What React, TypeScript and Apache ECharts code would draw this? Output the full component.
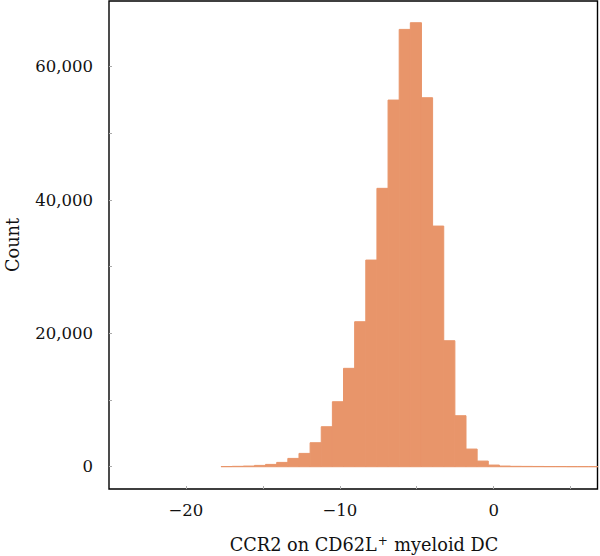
import React, { useEffect, useRef } from "react";
import * as echarts from "echarts";

// Histogram of CCR2 expression, equal-width bins
const binStart = -23.51;
const binWidth = 0.7238;
const counts = [
  0, 0, 0, 0, 0, 0, 0, 0,
  30, 60, 100, 200, 350, 650, 1250, 2000, 3600, 6000,
  9750, 14760, 21750, 31000, 41760, 55000, 65600, 66600,
  55350, 36100, 18900, 7650, 2650, 850, 250, 100,
  60, 50, 40, 30, 30, 20, 20, 20,
];

const xTickStep = 5;
const xLabelStep = 10;
const yLabelStep = 20000;
const xRange = [-25, 6.75];
const yRange = [-3340, 69860];

const barColor = "#E8956A";
const fontFamily = "'DejaVu Serif', 'Liberation Serif', serif";

function fmtX(v: number): string {
  if (Math.abs(v % xLabelStep) > 1e-9) return "";
  return v < 0 ? "\u2212" + Math.abs(v) : String(v);
}

function fmtY(v: number): string {
  if (v < 0 || Math.abs(v % yLabelStep) > 1e-9) return "";
  return v.toLocaleString("en-US");
}

export default function App() {
  const ref = useRef<HTMLDivElement>(null);

  useEffect(() => {
    if (!ref.current) return;
    const chart = echarts.init(ref.current, null, { renderer: "svg" });
    const data = counts.map((c, i) => [
      binStart + i * binWidth,
      binStart + (i + 1) * binWidth,
      c,
    ]);

    chart.setOption({
      animation: false,
      backgroundColor: "#ffffff",
      grid: {
        left: 109,
        top: 1,
        right: 2.5,
        bottom: 67,
        outerBoundsMode: "none",
        containLabel: false,
        show: true,
        borderColor: "#000",
        borderWidth: 1.4,
        backgroundColor: "transparent",
      },
      xAxis: {
        type: "value",
        min: xRange[0],
        max: xRange[1],
        interval: xTickStep,
        axisLine: { show: false, onZero: false },
        splitLine: { show: false },
        axisTick: { show: true, inside: true, length: 3, lineStyle: { color: "#aaa" } },
        axisLabel: {
          formatter: fmtX,
          showMinLabel: false,
          showMaxLabel: false,
          margin: 13,
          color: "#111",
          fontFamily,
          fontSize: 16.5,
        },
      },
      yAxis: {
        type: "value",
        min: yRange[0],
        max: yRange[1],
        splitNumber: 5,
        axisLine: { show: false, onZero: false },
        splitLine: { show: false },
        axisTick: { show: true, inside: true, length: 3, lineStyle: { color: "#aaa" } },
        axisLabel: {
          formatter: fmtY,
          showMinLabel: false,
          showMaxLabel: false,
          margin: 16,
          color: "#111",
          fontFamily,
          fontSize: 16.5,
        },
        name: "Count",
        nameLocation: "middle",
        nameGap: 87,
        nameTextStyle: { color: "#111", fontFamily, fontSize: 17.7 },
      },
      graphic: [
        {
          type: "text",
          x: 364,
          y: 545,
          style: {
            text: "{n|CCR2 on CD62L}{s|+}{n| myeloid DC}",
            align: "center",
            verticalAlign: "middle",
            rich: {
              n: { fontFamily, fontSize: 17.7, fill: "#111" },
              s: { fontFamily, fontSize: 12, fill: "#111", verticalAlign: "top", padding: [0, 1, 9, 1] },
            },
          },
        },
      ],
      series: [
        {
          type: "custom",
          clip: true,
          data,
          encode: { x: [0, 1], y: 2 },
          renderItem: (params: any, api: any) => {
            if (api.value(2) <= 0) return null;
            const p0 = api.coord([api.value(0), api.value(2)]);
            const p1 = api.coord([api.value(1), 0]);
            return {
              type: "rect",
              shape: { x: p0[0], y: p0[1], width: p1[0] - p0[0], height: p1[1] - p0[1] },
              style: { fill: barColor, stroke: barColor, lineWidth: 1 },
            };
          },
        },
      ],
    });

    return () => chart.dispose();
  }, []);

  return <div ref={ref} style={{ width: 600, height: 556, position: "absolute", left: 0, top: 0 }} />;
}
